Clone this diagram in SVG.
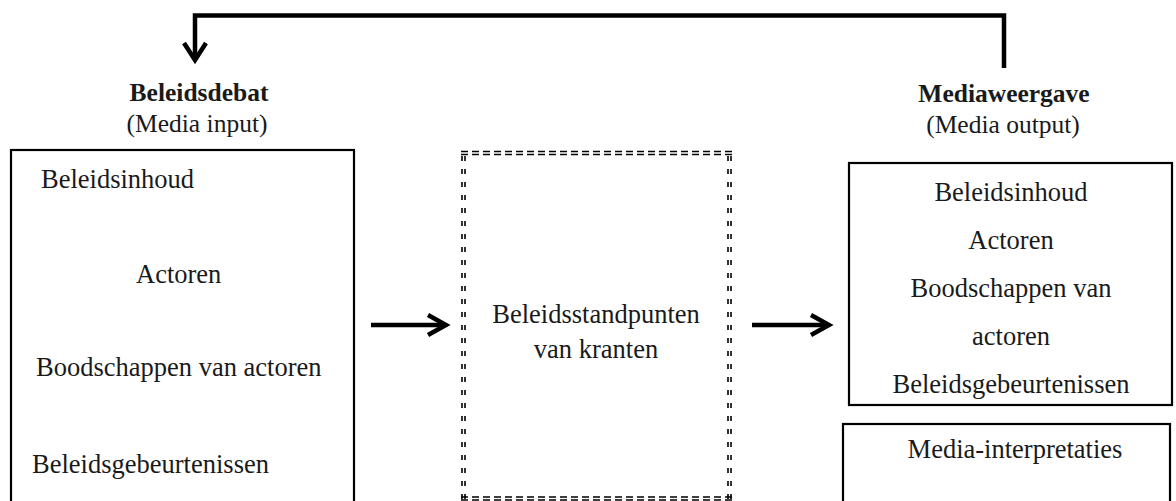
<svg xmlns="http://www.w3.org/2000/svg" width="1176" height="501" viewBox="0 0 1176 501">
  <defs>
    <style>
      text { font-family: "Liberation Serif", "Times New Roman", serif; font-size: 26.5px; fill: #1a1a1a; text-anchor: middle; }
      .title { font-weight: bold; font-size: 25.5px; }
      .sub { font-size: 25.5px; }
      .left { text-anchor: start; }
      .box { fill: none; stroke: #000; stroke-width: 2.2; }
      .conn { fill: none; stroke: #000; stroke-width: 4.5; stroke-linejoin: miter; }
      .head { fill: none; stroke: #000; stroke-width: 4.5; stroke-linecap: butt; stroke-linejoin: miter; }
      .dh { stroke: #000; stroke-width: 1.6; stroke-dasharray: 7 4; }
      .dv { stroke: #000; stroke-width: 1.6; stroke-dasharray: 5 8; }
    </style>
  </defs>

  <!-- connectors -->
  <g id="connectors">
    <!-- feedback loop from media output back to policy debate -->
    <path class="conn" d="M1004,68 V15.5 H195 V60"/>
    <path class="head" d="M184,43 L195,60 L206,43"/>
    <!-- input -> newspapers -->
    <line class="conn" x1="371" y1="325" x2="445" y2="325"/>
    <path class="head" d="M428,315 L446,325 L428,335"/>
    <!-- newspapers -> output -->
    <line class="conn" x1="752" y1="325" x2="828" y2="325"/>
    <path class="head" d="M811,315 L829,325 L811,335"/>
  </g>

  <!-- policy debate (media input) -->
  <g id="beleidsdebat">
    <text class="title" x="199" y="101">Beleidsdebat</text>
    <text class="sub" x="197" y="132">(Media input)</text>
    <rect class="box" x="11" y="150" width="343" height="380"/>
    <text class="left" x="41" y="188">Beleidsinhoud</text>
    <text class="left" x="136" y="283">Actoren</text>
    <text class="left" x="36" y="376">Boodschappen van actoren</text>
    <text class="left" x="32" y="473">Beleidsgebeurtenissen</text>
  </g>

  <!-- newspaper standpoints (double dashed frame) -->
  <g id="standpunten">
    <line class="dh" x1="461" y1="151.5" x2="732" y2="151.5"/>
    <line class="dh" x1="461" y1="154.5" x2="732" y2="154.5"/>
    <line class="dh" x1="461" y1="497" x2="732" y2="497"/>
    <line class="dh" x1="461" y1="500" x2="732" y2="500"/>
    <line class="dv" x1="462" y1="156" x2="462" y2="500"/>
    <line class="dv" x1="465" y1="156" x2="465" y2="500"/>
    <line class="dv" x1="728" y1="156" x2="728" y2="500"/>
    <line class="dv" x1="731" y1="156" x2="731" y2="500"/>
    <text x="596" y="323">Beleidsstandpunten</text>
    <text x="596" y="358">van kranten</text>
  </g>

  <!-- media coverage (media output) -->
  <g id="mediaweergave">
    <text class="title" x="1004" y="102">Mediaweergave</text>
    <text class="sub" x="1003" y="133">(Media output)</text>
    <rect class="box" x="849" y="163" width="323" height="242"/>
    <text x="1011" y="201">Beleidsinhoud</text>
    <text x="1011" y="249">Actoren</text>
    <text x="1011" y="297">Boodschappen van</text>
    <text x="1011" y="345">actoren</text>
    <text x="1011" y="393">Beleidsgebeurtenissen</text>
  </g>

  <!-- media interpretations -->
  <g id="media-interpretaties">
    <rect class="box" x="843" y="424" width="327" height="110"/>
    <text x="1015" y="458">Media-interpretaties</text>
  </g>
</svg>
